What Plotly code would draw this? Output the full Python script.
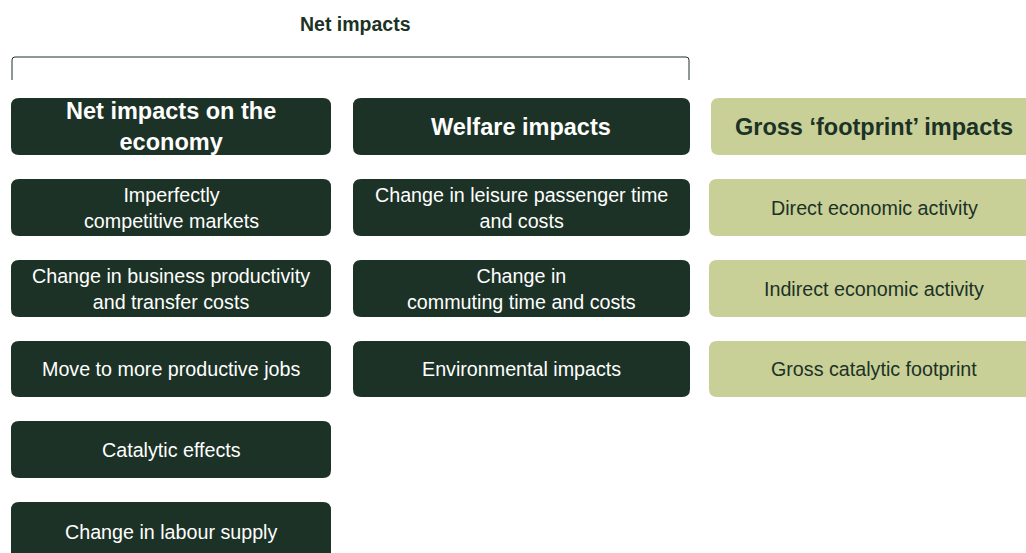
import plotly.graph_objects as go

# diagram content
top_label = 'Net impacts'
headers = ['Net impacts on the<br>economy', 'Welfare impacts', 'Gross \u2018footprint\u2019 impacts']
economy_items = ['Imperfectly<br>competitive markets',
                 'Change in business productivity<br>and transfer costs',
                 'Move to more productive jobs',
                 'Catalytic effects',
                 'Change in labour supply']
welfare_items = ['Change in leisure passenger time<br>and costs',
                 'Change in<br>commuting time and costs',
                 'Environmental impacts']
footprint_items = ['Direct economic activity',
                   'Indirect economic activity',
                   'Gross catalytic footprint']

DARK = '#1c3226'
LIGHT = '#c8cf97'
W, H = 1026, 553

# layout geometry (pixels)
col_x = [(11, 331), (353, 690), (709, 1040)]
header_y = (98, 155)
row_y = [(179, 236), (260, 317), (341, 397), (421, 478), (502, 562)]
text_x = [171, 521, 874]

font_family = 'Liberation Sans, Arial, sans-serif'
shapes = []
annotations = []


def rounded(x0, y0, x1, y1, r=8):
    return (f'M {x0+r},{y0} L {x1-r},{y0} Q {x1},{y0} {x1},{y0+r} '
            f'L {x1},{y1-r} Q {x1},{y1} {x1-r},{y1} L {x0+r},{y1} '
            f'Q {x0},{y1} {x0},{y1-r} L {x0},{y0+r} Q {x0},{y0} {x0+r},{y0} Z')


def add_box(x, y, tx, text, fill, color, bold=False):
    shapes.append(dict(type='path', path=rounded(x[0], y[0], x[1], y[1]),
                       xref='x', yref='y', fillcolor=fill,
                       line=dict(width=0), layer='below'))
    ty = (y[0] + y[1]) / 2 if y[1] <= H else 532
    annotations.append(dict(x=tx, y=ty, xref='x', yref='y', showarrow=False,
                            text=f'<b>{text}</b>' if bold else text,
                            font=dict(family=font_family, color=color,
                                      size=23.5 if bold else 19.7)))


fig = go.Figure()

header_fill = [DARK, DARK, LIGHT]
header_color = ['white', 'white', DARK]
header_x = [col_x[0], col_x[1], (711, 1040)]
for i, h in enumerate(headers):
    add_box(header_x[i], header_y, text_x[i], h, header_fill[i], header_color[i], bold=True)

for j, t in enumerate(economy_items):
    add_box(col_x[0], row_y[j], text_x[0], t, DARK, 'white')
for j, t in enumerate(welfare_items):
    add_box(col_x[1], row_y[j], text_x[1], t, DARK, 'white')
for j, t in enumerate(footprint_items):
    add_box(col_x[2], row_y[j], text_x[2], t, LIGHT, DARK)

# bracket over the two net-impact columns
shapes.append(dict(type='path', xref='x', yref='y',
                   path='M 12,80 L 12,60 Q 12,57 15,57 L 686,57 Q 689,57 689,60 L 689,80',
                   line=dict(color=DARK, width=1)))
annotations.append(dict(x=355, y=24, xref='x', yref='y', showarrow=False,
                        text=f'<b>{top_label}</b>',
                        font=dict(family=font_family, color=DARK, size=19.5)))

fig.update_layout(
    width=W, height=H,
    margin=dict(l=0, r=0, t=0, b=0),
    paper_bgcolor='white', plot_bgcolor='white',
    xaxis=dict(range=[0, W], visible=False, fixedrange=True),
    yaxis=dict(range=[H, 0], visible=False, fixedrange=True),
    shapes=shapes, annotations=annotations, showlegend=False,
)
fig.write_html('out.html', config={'displayModeBar': False},
               post_script="document.body.style.margin='0';document.body.style.overflow='hidden';")
